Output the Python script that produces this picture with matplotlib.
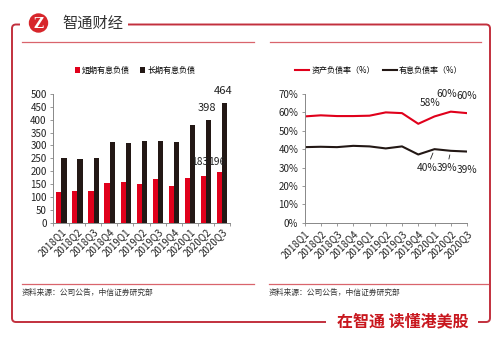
import matplotlib
matplotlib.use("Agg")
import matplotlib.pyplot as plt
import matplotlib.patches as mpatches
from matplotlib.path import Path
import numpy as np

plt.rcParams["font.family"] = ["Liberation Sans Narrow", "Noto Sans CJK SC", "DejaVu Sans"]
plt.rcParams["axes.unicode_minus"] = False

CJK = ["Noto Sans CJK SC", "DejaVu Sans"]
RED = "#e0001b"
BLACK = "#231815"
FRAME = "#c2303d"
SEP = "#d9646c"
W, H = 499, 337

# data
quarters = ["2018Q1", "2018Q2", "2018Q3", "2018Q4", "2019Q1", "2019Q2",
            "2019Q3", "2019Q4", "2020Q1", "2020Q2", "2020Q3"]
short_debt = [118, 124, 123, 154, 158, 150, 168, 144, 174, 183, 196]
long_debt = [250, 249, 250, 313, 310, 319, 316, 313, 380, 398, 464]
asset_ratio = [57.8, 58.4, 58.0, 58.0, 58.2, 60.0, 59.6, 53.8, 57.8, 60.4, 59.6]
debt_ratio = [41.1, 41.3, 41.1, 41.8, 41.5, 40.4, 41.5, 37.1, 40.0, 39.1, 38.7]


def px_axes(fig, x0, x1, y_top, y_bot):
    return fig.add_axes([x0 / W, 1 - y_bot / H, (x1 - x0) / W, (y_bot - y_top) / H])


def rounded(ax, pts, r=4, **kw):
    # polyline with small rounded corners
    verts, codes = [pts[0]], [Path.MOVETO]
    for i in range(1, len(pts) - 1):
        p0, p1, p2 = map(np.array, (pts[i - 1], pts[i], pts[i + 1]))
        a = p1 + (p0 - p1) / np.linalg.norm(p0 - p1) * r
        b = p1 + (p2 - p1) / np.linalg.norm(p2 - p1) * r
        verts += [tuple(a), tuple(p1), tuple(b)]
        codes += [Path.LINETO, Path.CURVE3, Path.CURVE3]
    verts.append(pts[-1])
    codes.append(Path.LINETO)
    ax.add_patch(mpatches.PathPatch(Path(verts, codes), fill=False, **kw))


fig = plt.figure(figsize=(W / 100, H / 100), dpi=100)
fig.patch.set_facecolor("white")

# ---- decoration layer in pixel coordinates ----
deco = fig.add_axes([0, 0, 1, 1])
deco.set_xlim(0, W)
deco.set_ylim(H, 0)
deco.axis("off")

rounded(deco, [(20, 24.5), (12, 24.5), (12, 322), (326, 322)], edgecolor=FRAME, lw=1.4)
rounded(deco, [(128, 24.5), (490, 24.5), (490, 322), (478, 322)], edgecolor=FRAME, lw=1.4)

for x0, x1 in [(22, 254), (270, 481)]:
    deco.plot([x0, x1], [41.5, 41.5], color=SEP, lw=0.9)
for x0, x1 in [(22, 254), (269, 488)]:
    deco.plot([x0, x1], [284, 284], color=SEP, lw=0.9)

deco.add_patch(mpatches.Circle((38.5, 23), 9.7, facecolor="#d7262b", edgecolor="none"))
deco.text(38.5, 23.5, "Z", fontsize=10, fontweight="bold", color="white",
          ha="center", va="center", family=["DejaVu Serif"])
deco.text(62, 23, "智通财经", fontsize=11, color="#333333", ha="left", va="center", family=CJK)

src = "资料来源：公司公告，中信证券研究部"
deco.text(22, 293, src, fontsize=5.6, color="#333333", ha="left", va="center", family=CJK)
deco.text(269, 293, src, fontsize=5.6, color="#333333", ha="left", va="center", family=CJK)

deco.text(403, 321, "在智通 读懂港美股", fontsize=11.5, fontweight="bold", color="#c8161d",
          ha="center", va="center", family=CJK)

x = np.arange(len(quarters))

# ---- left: interest-bearing debt bars ----
ax1 = px_axes(fig, 53, 230, 94, 222.7)
ax1.patch.set_alpha(0)
b1 = ax1.bar(x - 0.14, short_debt, width=0.32, color=RED, label="短期有息负债")
b2 = ax1.bar(x + 0.18, long_debt, width=0.32, color=BLACK, label="长期有息负债")
ax1.set_xlim(-0.5, len(quarters) - 0.5)
ax1.set_ylim(0, 500)
ax1.set_yticks(range(0, 501, 50))
ax1.set_xticks(x)
ax1.set_xticklabels(quarters, rotation=45, ha="right", va="top", rotation_mode="anchor")
ax1.set_xticks(np.arange(-0.5, len(quarters), 1), minor=True)
ax1.tick_params(axis="x", which="major", length=0, pad=3)
ax1.tick_params(axis="x", which="minor", length=2.5, color="#888888", width=0.6)
ax1.tick_params(axis="y", length=2.5, color="#888888", width=0.6, pad=2)
ax1.tick_params(labelsize=7, labelcolor="#222222")
for s in ["top", "right"]:
    ax1.spines[s].set_visible(False)
for s in ["left", "bottom"]:
    ax1.spines[s].set_color("#888888")
    ax1.spines[s].set_linewidth(0.7)

lab_short = {9: (-3, 10), 10: (-2.5, 7.5)}
for i, (dx, dy) in lab_short.items():
    ax1.annotate(f"{short_debt[i]}", (x[i] - 0.14, short_debt[i]), xytext=(dx, dy),
                 textcoords="offset points", ha="center", va="center", fontsize=7.4, color="#222222")
lab_long = {9: (-1, 9), 10: (-1, 9)}
for i, (dx, dy) in lab_long.items():
    ax1.annotate(f"{long_debt[i]}", (x[i] + 0.18, long_debt[i]), xytext=(dx, dy),
                 textcoords="offset points", ha="center", va="center", fontsize=8, color="#222222")

ax1.legend(handles=[b1, b2], loc="center", bbox_to_anchor=(135 / W, 1 - 70 / H),
           bbox_transform=fig.transFigure, ncol=2, frameon=False,
           handlelength=0.6, handleheight=0.7, handletextpad=0.3, columnspacing=1.2,
           prop={"family": CJK, "size": 5.8})

# ---- right: ratio lines ----
ax2 = px_axes(fig, 304.5, 467, 94, 222.7)
ax2.patch.set_alpha(0)
l1, = ax2.plot(x, asset_ratio, color=RED, lw=1.5, label="资产负债率（%）")
l2, = ax2.plot(x, debt_ratio, color=BLACK, lw=1.5, label="有息负债率（%）")
ax2.set_xlim(0, len(quarters) - 1)
ax2.set_ylim(0, 70)
ax2.set_yticks(range(0, 71, 10))
ax2.set_yticklabels([f"{v}%" for v in range(0, 71, 10)])
ax2.set_xticks(x)
ax2.set_xticklabels(quarters, rotation=45, ha="right", va="top", rotation_mode="anchor")
ax2.tick_params(length=2.5, color="#888888", width=0.6, pad=2, labelsize=7, labelcolor="#222222")
for s in ["top", "right"]:
    ax2.spines[s].set_visible(False)
for s in ["left", "bottom"]:
    ax2.spines[s].set_color("#888888")
    ax2.spines[s].set_linewidth(0.7)

lab_asset = {8: (-3.3, 9.9), 9: (-2.8, 12.5), 10: (0, 12)}
for i, (dx, dy) in lab_asset.items():
    ax2.annotate(f"{asset_ratio[i]:.0f}%", (x[i], asset_ratio[i]), xytext=(dx, dy),
                 textcoords="offset points", ha="center", va="center", fontsize=7.3, color="#222222")
lab_debt = {8: (-5.5, -13.7), 9: (-2.8, -12.5), 10: (0, -13.3)}
for i, (dx, dy) in lab_debt.items():
    arrow = dict(arrowstyle="-", lw=0.6, color="#222222", shrinkA=1, shrinkB=3) if i < 10 else None
    ax2.annotate(f"{debt_ratio[i]:.0f}%", (x[i], debt_ratio[i]), xytext=(dx, dy),
                 textcoords="offset points", ha="center", va="center", fontsize=7.3, color="#222222",
                 arrowprops=arrow)

ax2.legend(handles=[l1, l2], loc="center", bbox_to_anchor=(379 / W, 1 - 70 / H),
           bbox_transform=fig.transFigure, ncol=2, frameon=False,
           handlelength=1.7, handletextpad=0.3, columnspacing=1.0,
           prop={"family": CJK, "size": 5.8})

fig.savefig("out.png", dpi=100, facecolor="white")
